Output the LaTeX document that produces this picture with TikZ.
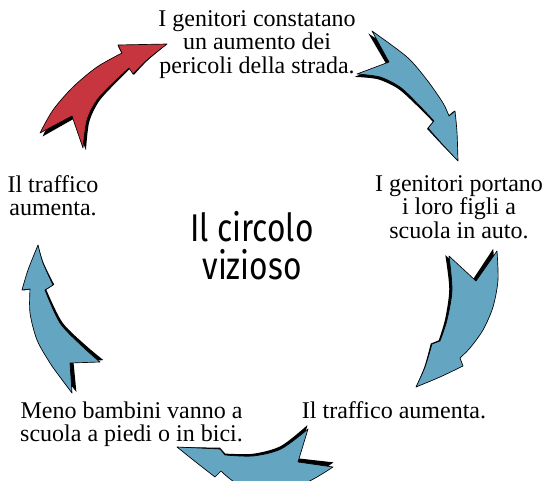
\documentclass[tikz,border=0pt]{standalone}
\usepackage{fontspec}
\setmainfont{Liberation Serif}
\newfontfamily\titlefont[FakeStretch=0.82]{Fira Sans}
\definecolor{arrowblue}{RGB}{100,165,194}
\definecolor{arrowred}{RGB}{199,53,63}
\def\arrA{(372,31) -- plot[smooth] coordinates{(372,31) (407,57) (427,80) (443,103) (449,116)} -- (455,111) -- plot[smooth] coordinates{(455,111) (457,132) (458,161)} -- plot[smooth] coordinates{(458,161) (443,145) (428,128)} -- (434,121) -- plot[smooth] coordinates{(434,121) (417,103) (400,87) (380,77) (357,74)} -- (389,62) -- cycle}
\def\arrB{(497,251) -- plot[smooth] coordinates{(497,251) (498,280) (493,307) (483,330) (470,348) (460,358)} -- (463,366) -- plot[smooth] coordinates{(463,366) (440,377) (416,387)} -- plot[smooth] coordinates{(416,387) (425,367) (432,344)} -- (440,341) -- plot[smooth] coordinates{(440,341) (447,320) (452,290) (449,256)} -- (476,281) -- cycle}
\def\arrC{(308,429) -- (298,462) -- (333,467) -- plot[smooth] coordinates{(333,467) (305,483) (268,490) (238,484) (221,471)} -- (215,477) -- plot[smooth] coordinates{(215,477) (197,463) (177,447)} -- (220,449) -- (225,455) -- plot[smooth] coordinates{(225,455) (253,456) (281,449) (308,429)} -- cycle}
\def\arrD{(38,245) -- plot[smooth] coordinates{(38,245) (43,263) (53,285)} -- (45,290) -- plot[smooth] coordinates{(45,290) (60,323) (83,347) (100,362)} -- (70,363) -- (72,393) -- plot[smooth] coordinates{(72,393) (60,377) (50,363) (37,340) (30,313) (30,289)} -- (22,290) -- plot[smooth] coordinates{(22,290) (28,270) (38,245)} -- cycle}
\def\arrE{(167,44) -- (118,45) -- (122,53) -- plot[smooth] coordinates{(122,53) (97,67) (73,87) (53,110) (40,133)} -- (72,116) -- (83,148) -- plot[smooth] coordinates{(83,148) (87,120) (97,100) (113,83) (129,68)} -- (133,74) -- plot[smooth] coordinates{(133,74) (147,60) (167,44)} -- cycle}
\begin{document}
\begin{tikzpicture}[x=0.75pt,y=-0.75pt,
  lbl/.style={font=\fontsize{18}{17.5}\selectfont, align=center, inner sep=0pt},
  titlelbl/.style={font=\titlefont\fontsize{29}{28.5}\selectfont, align=center, inner sep=0pt},
  shadowfill/.style={fill=black},
  arrowbody/.style={draw=black, line width=0.5pt, line join=round}]
\useasboundingbox (0,0) rectangle (544,480);
\clip (0,0) rectangle (544,480);
\fill[white] (0,0) rectangle (544,480);
% arrows: black shadow = the arrow turned slightly about its tip
\fill[shadowfill, rotate around={1.6:(458,161)}] \arrA;
\filldraw[arrowbody, fill=arrowblue] \arrA;
\fill[shadowfill, rotate around={1.6:(416,387)}] \arrB;
\filldraw[arrowbody, fill=arrowblue] \arrB;
\fill[shadowfill, rotate around={1.7:(177,447)}] \arrC;
\filldraw[arrowbody, fill=arrowblue] \arrC;
\fill[shadowfill, rotate around={1.7:(38,245)}] \arrD;
\filldraw[arrowbody, fill=arrowblue] \arrD;
\fill[shadowfill, rotate around={1.6:(167,44)}] \arrE;
\filldraw[arrowbody, fill=arrowred] \arrE;
% texts
\node[lbl] (t1) at (257,44.4) {I genitori constatano\\un aumento dei\\pericoli della strada.};
\node[lbl] (t2) at (459,207) {I genitori portano\\i loro figli a\\scuola in auto.};
\node[lbl] (t3) at (394,410) {Il traffico aumenta.};
\node[lbl] (t4) at (131.5,424) {Meno bambini vanno a\\scuola a piedi o in bici.};
\node[lbl] (t5) at (53,196) {Il traffico\\aumenta.};
\node[titlelbl] (c) at (252,245.5) {Il circolo\\vizioso};
\end{tikzpicture}
\end{document}
